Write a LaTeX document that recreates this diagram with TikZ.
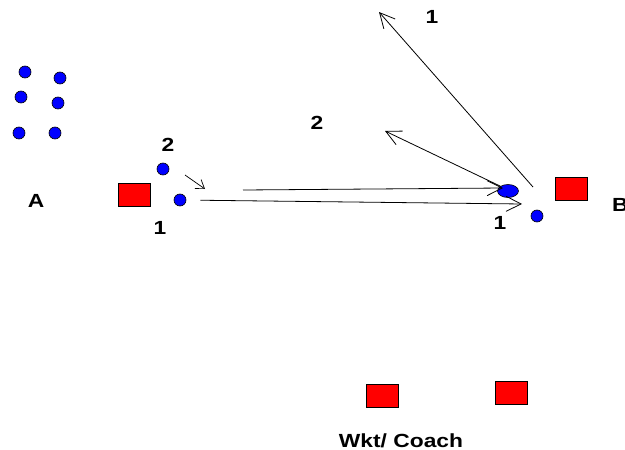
\documentclass[tikz,border=0pt]{standalone}
\usepackage{fontspec}
\setmainfont{Liberation Sans}
\usetikzlibrary{arrows.meta,shapes.geometric}
\newcommand{\wide}[1]{\scalebox{1.2}[1]{#1}}
\begin{document}
\begin{tikzpicture}[x=1pt,y=-1pt,
  dot/.style={circle,fill=blue,draw=black,line width=0.6pt,inner sep=0pt,minimum size=12pt},
  cone/.style={rectangle,fill=red,draw=black,line width=0.9pt,inner sep=0pt,minimum width=32pt,minimum height=23pt},
  lbl/.style={font=\bfseries\fontsize{19}{21}\selectfont,inner sep=0pt},
  run/.style={line width=0.8pt,-{Straight Barb[length=15pt,width=15pt,line width=0.8pt]}}]
\useasboundingbox (0,0) rectangle (625,450);
% group A
\node[dot] (a1) at (25,72) {};
\node[dot] (a2) at (60,78) {};
\node[dot] (a3) at (21,97) {};
\node[dot] (a4) at (58,103) {};
\node[dot] (a5) at (19,133) {};
\node[dot] (a6) at (55,133) {};
\node[lbl] (lA) at (36,201) {\wide{A}};
% cones
\node[cone] (c1) at (134,195) {};
\node[cone] (c2) at (571,189) {};
\node[cone] (c3) at (382,396) {};
\node[cone] (c4) at (511,393) {};
% players
\node[dot] (p2) at (163,169) {};
\node[lbl] (l2) at (168,145) {\wide{2}};
\node[dot] (p1) at (180,200) {};
\node[lbl] (l1) at (160,228) {\wide{1}};
\node[dot,shape=ellipse,minimum width=21pt,minimum height=13pt] (pb) at (508,191) {};
\node[dot] (pb2) at (537,216) {};
\node[lbl,anchor=west] (lB) at (612,205) {\wide{B}};
\node[lbl] (lb1) at (500,223) {\wide{1}};
\node[lbl] (lt1) at (432,17) {\wide{1}};
\node[lbl] (lt2) at (317,123) {\wide{2}};
\node[lbl] (lw) at (401,441) {\wide{Wkt/ Coach}};
% arrows
\coordinate (s0) at (185,175);
\coordinate (s1) at (205,189);
\draw[line width=0.7pt,-{Straight Barb[length=8pt,width=11pt,line width=0.7pt]}] (s0) -- (s1);
\coordinate (u0) at (243,190);
\coordinate (u1) at (503,188);
\draw[run] (u0) -- (u1);
\coordinate (u2) at (522,204);
\draw[run,shorten <=14pt] (p1) -- (u2);
\coordinate (t0) at (533,187);
\coordinate (t1) at (379,12);
\draw[run] (t0) -- (t1);
\coordinate (t2) at (385,131);
\draw[run] (pb.north west) -- (t2);
\end{tikzpicture}
\end{document}
